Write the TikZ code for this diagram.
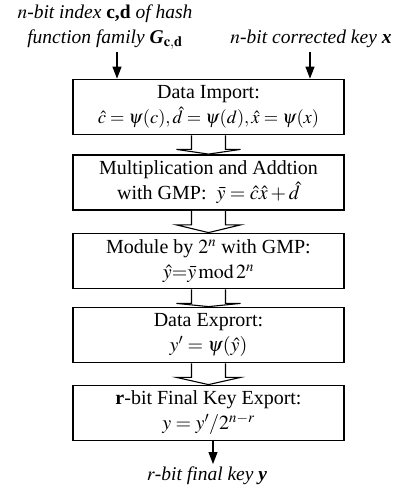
\documentclass[tikz,border=0pt]{standalone}
\usepackage{mathptmx}
\usepackage[no-math]{fontspec}
\setmainfont{Liberation Serif}
\usetikzlibrary{arrows.meta,calc}
\begin{document}
\begin{tikzpicture}[x=1pt,y=-1pt,
  stage/.style={draw,line width=1.8pt,minimum width=271pt,minimum height=55pt,
    inner sep=0pt,align=center,font=\fontsize{20}{24}\selectfont},
  lbl/.style={inner sep=0pt,align=center,font=\fontsize{19.5}{25}\selectfont\itshape},
  inarrow/.style={line width=1.2pt,-{Triangle[length=12pt,width=9pt]}},
  hollow/.style={line width=1.1pt,fill=white,line join=miter}]
\useasboundingbox (0,0) rectangle (403,491);
\node[stage] (b1) at (208.5,107) {Data Import:\\[1pt]
  \fontsize{18.5}{22}\selectfont$\hat{c}=\psi(c),\hat{d}=\psi(d),\hat{x}=\psi(x)$};
\node[stage] (b2) at (208.5,182.5) {Multiplication and Addtion\\[1pt]
  with GMP:\ \ $\bar{y}=\hat{c}\hat{x}+\hat{d}$};
\node[stage] (b3) at (208.5,261) {Module by $2^n$ with GMP:\\[1pt]
  $\hat{y}{=}\bar{y}\,\mathrm{mod}\,2^n$};
\node[stage] (b4) at (208.5,335) {Data Exprort:\\[1pt]
  $y'=\psi(\hat{y})$};
\node[stage] (b5) at (208.5,413) {\textbf{r}-bit Final Key Export:\\[1pt]
  $y=y'/2^{n-r}$};
\node[lbl] (inl) at (105,27) {$n$-bit index \textbf{\upshape c,d} of hash\\
  function family \textbf{G}$_{\mathbf{c,d}}$};
\node[lbl] (inr) at (311,39) {$n$-bit corrected key \textbf{x}};
\node[lbl] (out) at (207,476) {$r$-bit final key \textbf{y}};
\coordinate (sl) at (117,52);
\coordinate (sr) at (310,52);
\coordinate (so) at (213,441);
\draw[inarrow] (sl) -- (sl |- b1.north);
\draw[inarrow] (sr) -- (sr |- b1.north);
\draw[inarrow] (so |- b5.south) -- (213,464);
\foreach \a/\b in {b1/b2,b2/b3,b3/b4,b4/b5}{
  \draw[hollow] ($(\a.south)+(-17,0)$) -- ++(0,14) -- ++(-15,0)
    -- ($(\b.north)+(0,0)$) -- ($(\a.south)+(32,14)$) -- ++(-15,0) -- ($(\a.south)+(17,0)$);
}
\end{tikzpicture}
\end{document}
